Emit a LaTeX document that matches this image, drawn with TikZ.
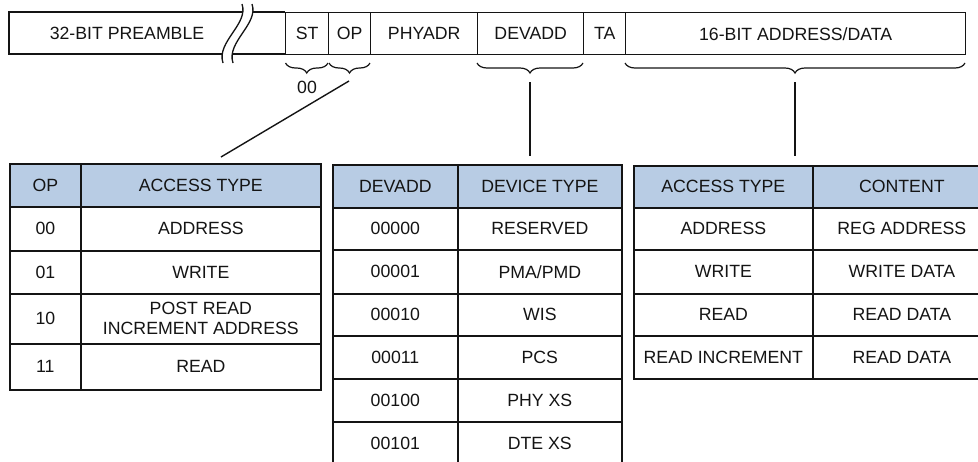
\documentclass[tikz,border=0pt]{standalone}
\usepackage{fontspec}
\setmainfont{Liberation Sans}
\usetikzlibrary{decorations.pathreplacing}
\definecolor{hdr}{RGB}{184,204,228}
\definecolor{ink}{RGB}{20,20,20}
\begin{document}
\begin{tikzpicture}[x=1pt,y=-1pt,
  font=\fontsize{17.7}{20}\selectfont,
  field/.style={draw=ink, line width=1.4pt, anchor=north west, inner sep=0pt, minimum height=42pt, text=ink},
  cellbox/.style={draw=ink, line width=1.7pt, anchor=north west, inner sep=0pt, align=center, text=ink},
  hdrbox/.style={cellbox, fill=hdr},
  bar/.style={draw=ink, line width=1.4pt},
  brk/.style={draw=ink, line width=1.3pt},
  bracestyle/.style={draw=ink, line width=1.2pt, decorate, decoration={brace, amplitude=10pt, mirror}},
  conn/.style={draw=ink, line width=1.4pt},
  lbl/.style={text=ink, inner sep=0pt}]
\useasboundingbox (0,0) rectangle (978,461);

% ---------- top frame bar ----------
\node[lbl] (pre) at (127,33) {32-BIT PREAMBLE};
\draw[bar] (243,12) -- (9,12) -- (9,54) -- (222,54);
\draw[bar] (253,12) -- (285,12);
\draw[bar] (232,54) -- (285,54);
\draw[brk] (242,4) .. controls (249,24) and (216,42) .. (223,63);
\draw[brk] (252,4) .. controls (259,24) and (226,42) .. (233,63);
\node[field, minimum width=43pt]  (st)  at (285,12) {ST};
\node[field, minimum width=42pt]  (op)  at (328,12) {OP};
\node[field, minimum width=107pt] (phy) at (370,12) {PHYADR};
\node[field, minimum width=106pt] (dev) at (477,12) {DEVADD};
\node[field, minimum width=42pt]  (ta)  at (583,12) {TA};
\node[field, minimum width=340pt] (dat) at (625,12) {16-BIT ADDRESS/DATA};

% ---------- braces ----------
\draw[bracestyle] (285.5,63) -- (328,63);
\draw[bracestyle] (329,63) -- (370,63);
\draw[bracestyle] (477,63) -- (583,63);
\draw[bracestyle] (625,63) -- (965,63);
\node[lbl] (zz) at (307,87) {00};

\coordinate (opB)  at (349,81);
\coordinate (devB) at (530,82);
\coordinate (datB) at (795,82);
\coordinate (t1in) at (221,157);
\coordinate (t2in) at (530,156);
\coordinate (t3in) at (795,156);
\draw[conn] (opB) -- (t1in);
\draw[conn] (devB) -- (t2in);
\draw[conn] (datB) -- (t3in);

% ---------- table 1 ----------
\node[hdrbox,  minimum width=71pt,  minimum height=43pt] (a0) at (9,163)  {OP};
\node[hdrbox,  minimum width=240pt, minimum height=43pt] (b0) at (80,163) {ACCESS TYPE};
\node[cellbox, minimum width=71pt,  minimum height=44pt] (a1) at (9,206)  {00};
\node[cellbox, minimum width=240pt, minimum height=44pt] (b1) at (80,206) {ADDRESS};
\node[cellbox, minimum width=71pt,  minimum height=43pt] (a2) at (9,250)  {01};
\node[cellbox, minimum width=240pt, minimum height=43pt] (b2) at (80,250) {WRITE};
\node[cellbox, minimum width=71pt,  minimum height=50pt] (a3) at (9,293)  {10};
\node[cellbox, minimum width=240pt, minimum height=50pt] (b3) at (80,293) {POST READ\\INCREMENT ADDRESS};
\node[cellbox, minimum width=71pt,  minimum height=46pt] (a4) at (9,343)  {11};
\node[cellbox, minimum width=240pt, minimum height=46pt] (b4) at (80,343) {READ};

% ---------- table 2 ----------
\node[hdrbox,  minimum width=125pt, minimum height=43pt] (c0) at (332,164) {DEVADD};
\node[hdrbox,  minimum width=164pt, minimum height=43pt] (d0) at (457,164) {DEVICE TYPE};
\node[cellbox, minimum width=125pt, minimum height=42pt] (c1) at (332,207) {00000};
\node[cellbox, minimum width=164pt, minimum height=42pt] (d1) at (457,207) {RESERVED};
\node[cellbox, minimum width=125pt, minimum height=44pt] (c2) at (332,249) {00001};
\node[cellbox, minimum width=164pt, minimum height=44pt] (d2) at (457,249) {PMA/PMD};
\node[cellbox, minimum width=125pt, minimum height=42pt] (c3) at (332,293) {00010};
\node[cellbox, minimum width=164pt, minimum height=42pt] (d3) at (457,293) {WIS};
\node[cellbox, minimum width=125pt, minimum height=43pt] (c4) at (332,335) {00011};
\node[cellbox, minimum width=164pt, minimum height=43pt] (d4) at (457,335) {PCS};
\node[cellbox, minimum width=125pt, minimum height=43pt] (c5) at (332,378) {00100};
\node[cellbox, minimum width=164pt, minimum height=43pt] (d5) at (457,378) {PHY XS};
\node[cellbox, minimum width=125pt, minimum height=43pt] (c6) at (332,421) {00101};
\node[cellbox, minimum width=164pt, minimum height=43pt] (d6) at (457,421) {DTE XS};

% ---------- table 3 ----------
\node[hdrbox,  minimum width=179pt, minimum height=42pt] (e0) at (633,165) {ACCESS TYPE};
\node[hdrbox,  minimum width=178pt, minimum height=42pt] (f0) at (812,165) {CONTENT};
\node[cellbox, minimum width=179pt, minimum height=42pt] (e1) at (633,207) {ADDRESS};
\node[cellbox, minimum width=178pt, minimum height=42pt] (f1) at (812,207) {REG ADDRESS};
\node[cellbox, minimum width=179pt, minimum height=44pt] (e2) at (633,249) {WRITE};
\node[cellbox, minimum width=178pt, minimum height=44pt] (f2) at (812,249) {WRITE DATA};
\node[cellbox, minimum width=179pt, minimum height=42pt] (e3) at (633,293) {READ};
\node[cellbox, minimum width=178pt, minimum height=42pt] (f3) at (812,293) {READ DATA};
\node[cellbox, minimum width=179pt, minimum height=43pt] (e4) at (633,335) {READ INCREMENT};
\node[cellbox, minimum width=178pt, minimum height=43pt] (f4) at (812,335) {READ DATA};
\end{tikzpicture}
\end{document}
